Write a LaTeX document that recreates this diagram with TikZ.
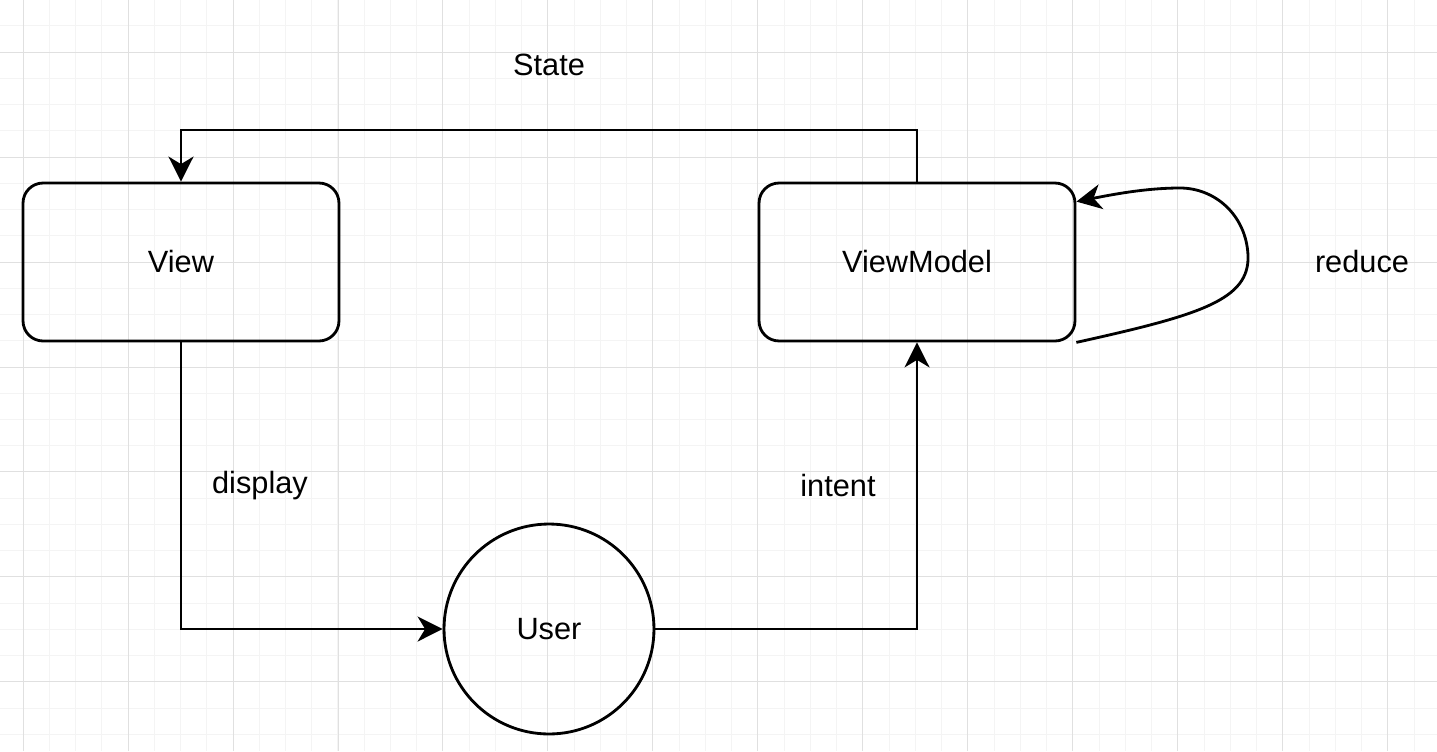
\documentclass[tikz,border=0pt]{standalone}
\usepackage{fontspec}
\setmainfont{Liberation Sans}
\usetikzlibrary{arrows.meta,positioning}

\definecolor{minorgrid}{HTML}{F4F4F4}
\definecolor{majorgrid}{HTML}{E0E0E0}

\tikzset{
	box/.style={draw, line width=1.6pt, rounded corners=0.4cm, minimum width=6.32cm, minimum height=3.16cm, font=\fontsize{17.5}{20}\selectfont},
	usercircle/.style={draw, circle, line width=1.6pt, minimum size=4.2cm, font=\fontsize{17.5}{20}\selectfont},
	lbl/.style={font=\fontsize{17.5}{20}\selectfont},
	flow/.style={line width=1.6pt, -{Stealth[length=0.5cm, width=0.5cm, inset=0.15cm]}}
}

\begin{document}
\begin{tikzpicture}[x=0.02cm, y=-0.02cm]
	\useasboundingbox (0,0) rectangle (1437,751);
	% grid
	\begin{scope}[shift={(23,52)}]
		\draw[minorgrid, line width=0.5pt, step=0.525cm] (-23,-52) grid (1414,699);
		\draw[majorgrid, line width=0.5pt, step=2.1cm] (-23,-52) grid (1414,699);
	\end{scope}

	\node[box] (view) at (181,262) {View};
	\node[box] (vm) at (917,262) {ViewModel};
	\node[usercircle] (user) at (549,629) {User};

	\node[lbl] (state) at (549,65) {State};
	\node[lbl] (display) at (260,486) {display};
	\node[lbl] (intent) at (838,486) {intent};
	\node[lbl] (reduce) at (1362,262) {reduce};

	\draw[flow] (vm.north) |- (181,130) -- (view.north);
	\draw[flow] (view.south) |- (user.west);
	\draw[flow] (user.east) -| (vm.south);
	\draw[flow] (vm.south east) .. controls (1200,315) and (1250,300) .. (1248,255)
		.. controls (1246,215) and (1215,188) .. (1180,188)
		.. controls (1145,188) and (1110,195) .. ([yshift=-0.4cm]vm.north east);
\end{tikzpicture}
\end{document}
